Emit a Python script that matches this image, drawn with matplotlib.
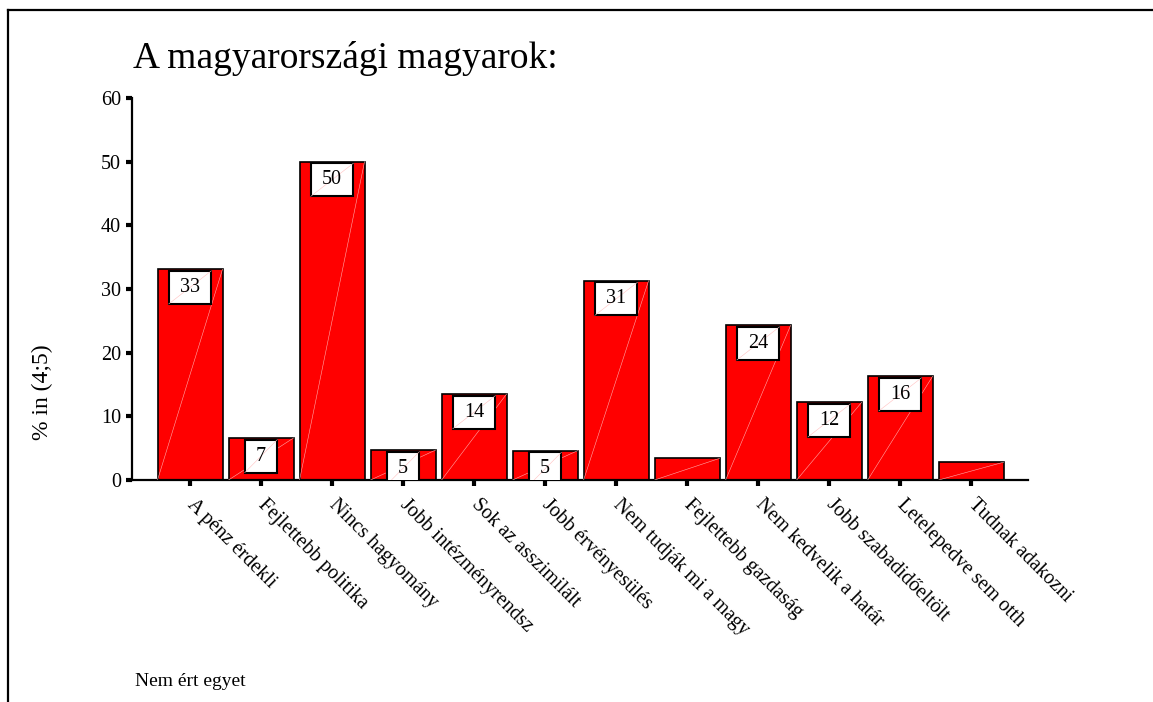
import numpy as np
import matplotlib
matplotlib.use("Agg")
from matplotlib import pyplot as plt
from matplotlib.patches import Rectangle
from matplotlib.lines import Line2D

plt.rcParams['font.family'] = ['Liberation Serif', 'DejaVu Serif']

categories = ['A pénz érdekli', 'Fejlettebb politika', 'Nincs hagyomány',
              'Jobb intézményrendsz', 'Sok az asszimilált', 'Jobb érvényesülés',
              'Nem tudják mi a magy', 'Fejlettebb gazdaság', 'Nem kedvelik a határ',
              'Jobb szabadidőeltölt', 'Letelepedve sem otth', 'Tudnak adakozni']
values = [33.1, 6.6, 50.0, 4.7, 13.5, 4.6, 31.3, 3.4, 24.3, 12.2, 16.3, 2.8]
labels = ['33', '7', '50', '5', '14', '5', '31', None, '24', '12', '16', None]
yticks = [0, 10, 20, 30, 40, 50, 60]

W, H = 1153, 702
fig = plt.figure(figsize=(W / 100, H / 100), dpi=100)
ax = fig.add_axes([132 / W, 1 - 480 / H, (1028 - 132) / W, (480 - 98) / H])

x = np.arange(len(values))
bw = 0.915
ax.bar(x, values, width=bw, color='#ff0000', edgecolor='black', linewidth=1.2, zorder=2)

# faint diagonal streaks inside the bars (as in the original export)
for xi, v in zip(x, values):
    ax.plot([xi - bw / 2, xi + bw / 2], [0, v], color='#ffaaaa', lw=0.4, zorder=3)

# value boxes
for xi, v, lab in zip(x, values, labels):
    if lab is None:
        continue
    w = 0.6 if len(lab) > 1 else 0.46
    top = v - 0.25
    h = 5.2
    ax.add_patch(Rectangle((xi - w / 2, top - h), w, h, facecolor='white',
                           edgecolor='black', linewidth=1.5, zorder=4))
    ax.plot([xi - w / 2, xi + w / 2], [top - h, top], color='#ffc0c0', lw=0.4, zorder=5)
    ax.text(xi, top - h / 2, lab, ha='center', va='center', fontsize=14.5, zorder=6)

ax.set_xlim(-0.817, 11.8)
ax.set_ylim(0, 60)
ax.set_yticks(yticks)
ax.set_xticks(x)
ax.set_xticklabels(categories, rotation=-45, ha='left', va='center',
                   rotation_mode='anchor', fontsize=14.5)
ax.tick_params(axis='y', labelsize=14.5, length=4, width=3, pad=4)
ax.tick_params(axis='x', length=4, width=3, pad=12)
for s in ['top', 'right']:
    ax.spines[s].set_visible(False)
for s in ['left', 'bottom']:
    ax.spines[s].set_linewidth(1.6)

fig.text(133 / W, 1 - 59 / H, 'A magyarországi magyarok:', fontsize=27,
         ha='left', va='center')
fig.text(42 / W, 1 - 392 / H, '% in (4;5)', fontsize=17, rotation=90,
         ha='center', va='center')
fig.text(135 / W, 1 - 681 / H, 'Nem ért egyet', fontsize=14, ha='left', va='center')

# page frame lines
fig.add_artist(Line2D([8 / W, 8 / W], [0, 1 - 10 / H], color='black', lw=1.6))
fig.add_artist(Line2D([8 / W, 1], [1 - 10 / H, 1 - 10 / H], color='black', lw=1.6))

fig.savefig('out.png', dpi=100)
